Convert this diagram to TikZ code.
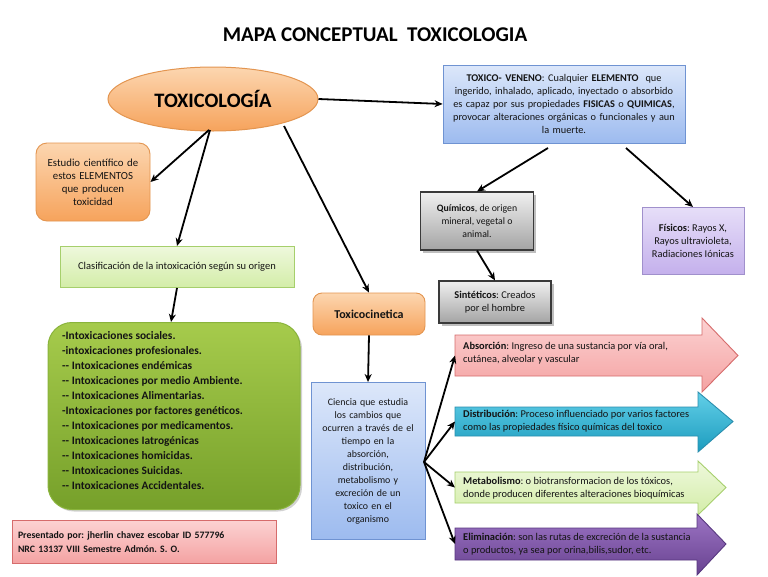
\documentclass[tikz,border=0pt]{standalone}
\usepackage{fontspec}
\setmainfont{Carlito}
\usetikzlibrary{arrows.meta,shapes.geometric,shadows}
\definecolor{orT}{HTML}{FCD6B0}\definecolor{orB}{HTML}{F6A35C}\definecolor{orD}{HTML}{E39550}
\definecolor{blT}{HTML}{DCE7FA}\definecolor{blB}{HTML}{9DBBEF}\definecolor{blD}{HTML}{6F93D2}
\definecolor{lgT}{HTML}{EEF8DC}\definecolor{lgB}{HTML}{D3EDA8}\definecolor{lgD}{HTML}{A6CF6C}
\definecolor{gnT}{HTML}{A6CB4C}\definecolor{gnB}{HTML}{76A02A}\definecolor{gnD}{HTML}{8AB43C}
\definecolor{rdT}{HTML}{FCD2D2}\definecolor{rdB}{HTML}{F4A2A2}\definecolor{rdD}{HTML}{D66C6C}
\definecolor{gyT}{HTML}{F0F0F0}\definecolor{gyB}{HTML}{A4A4A4}\definecolor{gyD}{HTML}{3A3A3A}
\definecolor{puT}{HTML}{E6DEF8}\definecolor{puB}{HTML}{C4B0EC}\definecolor{puD}{HTML}{A090CC}
\definecolor{cyT}{HTML}{62CFE8}\definecolor{cyB}{HTML}{1C9CBE}\definecolor{cyD}{HTML}{2A8EAE}
\definecolor{vtT}{HTML}{9C74C4}\definecolor{vtB}{HTML}{684290}\definecolor{vtD}{HTML}{583880}
\definecolor{txt}{HTML}{141414}
\tikzset{
  conn/.style={-{Stealth[length=8pt,width=7pt,inset=2.5pt]},line width=1.8pt,black},
  boxbase/.style={draw,line width=0.9pt,align=center,inner sep=2pt,text=txt,font=\fontsize{10.4}{13.2}\selectfont},
  orangebox/.style={boxbase,draw=orD,top color=orT,bottom color=orB,rounded corners=11pt},
  bluebox/.style={boxbase,draw=blD,top color=blT,bottom color=blB},
  lgreenbox/.style={boxbase,draw=lgD,top color=lgT,bottom color=lgB},
  greybox/.style={boxbase,draw=gyD,line width=1.1pt,top color=gyT,bottom color=gyB,
     drop shadow={shadow xshift=2.5pt,shadow yshift=-2.5pt,opacity=0.5}},
  purplebox/.style={boxbase,draw=puD,top color=puT,bottom color=puB},
  fattext/.style={anchor=west,align=left,text=txt,inner sep=0pt,font=\fontsize{10.4}{13.6}\selectfont},
}
\newcommand\fatarrow[9]{%
  \path[draw=#9D,line width=0.9pt,top color=#9T,bottom color=#9B]
   (#1,#2) -- (#5,#2) -- (#5,#6) -- (#8,{(#2+#3)/2}) -- (#5,#7) -- (#5,#3) -- (#1,#3) -- cycle;
  \coordinate (#4) at (#1,{(#2+#3)/2});}
\begin{document}
\frenchspacing
\begin{tikzpicture}[x=1pt,y=-1pt]
\useasboundingbox (0,0) rectangle (768,576);
\fill[white] (0,0) rectangle (768,576);

\node (title) at (375,35) {\fontsize{21}{24}\selectfont\bfseries MAPA CONCEPTUAL\ \ TOXICOLOGIA};

\node[ellipse,draw=orD,line width=1pt,top color=orT,bottom color=orB,
  minimum width=210pt,minimum height=64pt,inner sep=0pt] (tox) at (213,99)
  {\fontsize{20.5}{24}\selectfont\bfseries TOXICOLOGÍA};

\node[bluebox,draw=blD,minimum width=242pt,minimum height=78pt,text width=238pt,
  font=\fontsize{10.3}{13.2}\selectfont] (veneno) at (564,104)
  {\textbf{TOXICO- VENENO}: Cualquier \textbf{ELEMENTO}\ \ que\\ingerido, inhalado, aplicado, inyectado o absorbido\\es capaz por sus propiedades \textbf{FISICAS} o \textbf{QUIMICAS},\\provocar alteraciones orgánicas o funcionales y aun\\la muerte.};

\node[orangebox,minimum width=114pt,minimum height=78pt,text width=110pt,font=\fontsize{10.8}{13}\selectfont] (estudio) at (93,182)
  {Estudio científico de\\estos ELEMENTOS\\que producen\\toxicidad};

\node[lgreenbox,minimum width=234pt,minimum height=41pt,font=\fontsize{10.5}{13}\selectfont] (clasif) at (177,267)
  {Clasificación de la intoxicación según su origen};

\node[draw=gnD,line width=1pt,top color=gnT,bottom color=gnB,rounded corners=24pt,
  minimum width=252pt,minimum height=187pt,
  drop shadow={shadow xshift=2pt,shadow yshift=-2pt,opacity=0.35}] (lista) at (174,416) {};
\node[anchor=north west,align=left,inner sep=0pt,text=txt,
  font=\fontsize{11.4}{15}\selectfont\bfseries] (listatxt) at (62,331)
  {-Intoxicaciones sociales.\\
   -intoxicaciones profesionales.\\
   -{}- Intoxicaciones endémicas\\
   -{}- Intoxicaciones por medio Ambiente.\\
   -{}- Intoxicaciones Alimentarias.\\
   -Intoxicaciones por factores genéticos.\\
   -{}- Intoxicaciones por medicamentos.\\
   -{}- Intoxicaciones Iatrogénicas\\
   -{}- Intoxicaciones homicidas.\\
   -{}- Intoxicaciones Suicidas.\\
   -{}- Intoxicaciones Accidentales.};

\node[boxbase,draw=rdD,top color=rdT,bottom color=rdB,minimum width=264pt,minimum height=43pt,
  align=left,text width=252pt,font=\fontsize{9.8}{14}\selectfont\bfseries] (autor) at (144,542)
  {Presentado por: jherlin chavez escobar ID 577796\\NRC 13137 VIII Semestre Admón. S. O.};

\node[orangebox,rounded corners=9pt,minimum width=112pt,minimum height=42pt] (cinetica) at (369,314)
  {\fontsize{12}{14}\selectfont\bfseries Toxicocinetica};

\node[bluebox,minimum width=113pt,minimum height=157pt,text width=110pt,font=\fontsize{9.9}{13}\selectfont] (ciencia) at (368,461)
  {Ciencia que estudia\\los cambios que\\ocurren a través de el\\tiempo en la\\absorción,\\distribución,\\metabolismo y\\excreción de un\\toxico en el\\organismo};

\node[greybox,minimum width=113pt,minimum height=58pt,font=\fontsize{9.8}{13}\selectfont] (quimicos) at (477,221)
  {\textbf{Químicos}, de origen\\mineral, vegetal o\\animal.};
\node[greybox,minimum width=112pt,minimum height=42pt] (sinteticos) at (495,302)
  {\textbf{Sintéticos}: Creados\\por el hombre};
\node[purplebox,minimum width=102pt,minimum height=67pt] (fisicos) at (693,241)
  {\textbf{Físicos}: Rayos X,\\Rayos ultravioleta,\\Radiaciones Iónicas};

% big arrows
\fatarrow{455}{335}{376}{absL}{702}{318}{392}{738}{rd}
\node[fattext] (absT) at (463,353) {\textbf{Absorción}: Ingreso de una sustancia por vía oral,\\cutánea, alveolar y vascular};
\fatarrow{455}{407}{436}{disL}{698}{392}{452}{733}{cy}
\node[fattext] (disT) at (463,421) {\textbf{Distribución}: Proceso influenciado por varios factores\\como las propiedades físico químicas del toxico};
\fatarrow{455}{472}{503}{metL}{698}{461}{515}{726}{lg}
\node[fattext] (metT) at (463,488) {\textbf{Metabolismo}: o biotransformacion de los tóxicos,\\donde producen diferentes alteraciones bioquímicas};
\fatarrow{455}{528}{560}{eliL}{697}{514}{575}{726}{vt}
\node[fattext] (eliT) at (463,544) {\textbf{Eliminación}: son las rutas de excreción de la sustancia\\o productos, ya sea por orina,bilis,sudor, etc.};

% connectors
\draw[conn] (tox.east) -- (veneno.west);
\draw[conn] (209,130) -- (estudio.east);
\draw[conn] (210,130) -- (clasif.north);
\draw[conn] (clasif.south) -- ([xshift=-3pt]lista.north);
\draw[conn] (284,126) -- ([yshift=-0pt]cinetica.north);
\draw[conn] (cinetica.south) -- (ciencia.north);
\coordinate (hub) at (424,462);
\draw[conn] (hub) -- (absL);
\draw[conn] (hub) -- (disL);
\draw[conn] (hub) -- (metL);
\draw[conn] (hub) -- (eliL);
\draw[conn] (548,148) -- (quimicos.north);
\draw[conn] (626,148) -- (fisicos.north);
\draw[conn] (quimicos.south) -- (sinteticos.north);
\end{tikzpicture}
\end{document}
